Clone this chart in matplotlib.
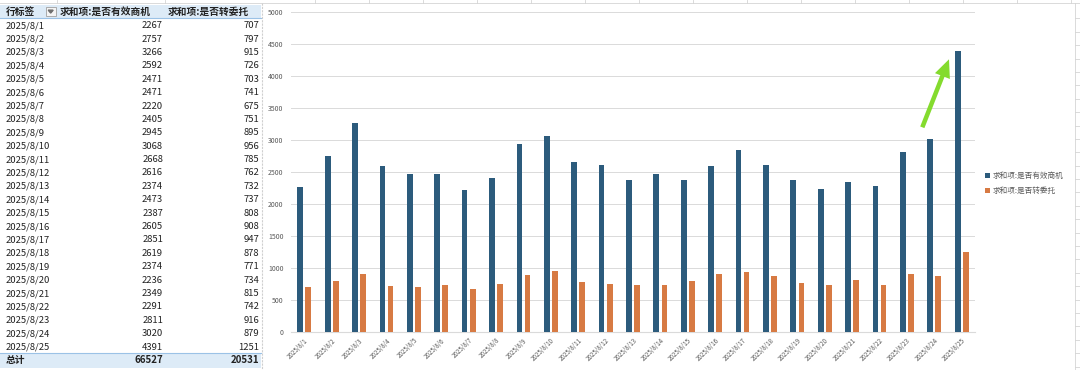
import matplotlib.pyplot as plt
from matplotlib.patches import Rectangle, FancyArrow
import numpy as np

plt.rcParams['font.family'] = ['Noto Sans CJK SC', 'DejaVu Sans']

dates = ["2025/8/1", "2025/8/2", "2025/8/3", "2025/8/4", "2025/8/5",
         "2025/8/6", "2025/8/7", "2025/8/8", "2025/8/9", "2025/8/10",
         "2025/8/11", "2025/8/12", "2025/8/13", "2025/8/14", "2025/8/15",
         "2025/8/16", "2025/8/17", "2025/8/18", "2025/8/19", "2025/8/20",
         "2025/8/21", "2025/8/22", "2025/8/23", "2025/8/24", "2025/8/25"]
opps = [2267, 2757, 3266, 2592, 2471, 2471, 2220, 2405, 2945, 3068,
        2668, 2616, 2374, 2473, 2387, 2605, 2851, 2619, 2374, 2236,
        2349, 2291, 2811, 3020, 4391]
trans = [707, 797, 915, 726, 703, 741, 675, 751, 895, 956,
         785, 762, 732, 737, 808, 908, 947, 878, 771, 734,
         815, 742, 916, 879, 1251]

row_label = "行标签"
col_opps = "求和项:是否有效商机"
col_trans = "求和项:是否转委托"
total_label = "总计"

blue = "#2C5B7C"
orange = "#D77A43"
grid = "#DADADA"
txt = "#595959"

W, H = 1080, 370
fig = plt.figure(figsize=(W / 100, H / 100), dpi=100)

# chart area
ax = fig.add_axes([290.6 / W, 1 - 332.3 / H, (975.4 - 290.6) / W, 320 / H])
x = np.arange(len(dates))
bw = 0.21
ax.bar(x - 0.148, opps, bw, color=blue, label=col_opps, zorder=3)
ax.bar(x + 0.148, trans, bw, color=orange, label=col_trans, zorder=3)
ax.set_xlim(-0.5, len(dates) - 0.5)
ax.set_ylim(0, 5000)
ax.set_yticks(np.arange(0, 5001, 500))
ax.yaxis.grid(True, color=grid, lw=0.7, zorder=0)
for s in ["top", "right", "left"]:
    ax.spines[s].set_visible(False)
ax.spines["bottom"].set_color(grid)
ax.tick_params(axis="y", length=0, labelsize=5, labelcolor=txt, pad=5)
ax.set_xticks(x, dates, rotation=45, ha="right", rotation_mode="anchor")
ax.tick_params(axis="x", length=0, labelsize=4.5, labelcolor=txt, pad=3)

ax.legend(loc="upper left", bbox_to_anchor=(985 / W, 1 - 172 / H),
          bbox_transform=fig.transFigure, frameon=False, fontsize=5.5,
          handlelength=0.6, handleheight=0.6, handletextpad=0.4,
          labelspacing=0.9, borderaxespad=0, borderpad=0, labelcolor=txt)

# overlay in pixel coords: pivot table, sheet lines, arrow
ov = fig.add_axes([0, 0, 1, 1], zorder=5)
ov.set_xlim(0, W)
ov.set_ylim(H, 0)
ov.axis("off")
ov.patch.set_alpha(0)

hdr_bg = "#DDEBF7"
hdr_line = "#9BC2E6"
row_h = 13.39
y0 = 25.7

# sheet gridlines above / right of chart
ov.plot([0, W], [3.3, 3.3], color="#D4D4D4", lw=0.6)
for gx in [57, 165] + list(np.arange(315, 1080, 54)):
    ov.plot([gx, gx], [0, 3.3], color="#D4D4D4", lw=0.6)
ov.plot([262, 262], [3.3, H], color="#CFCFCF", lw=0.8, ls=(0, (2, 1)))
ov.plot([1075, 1075], [3.3, H], color="#D4D4D4", lw=0.6)
for gy in np.arange(18.4, H, row_h):
    ov.plot([1075, W], [gy, gy], color="#D4D4D4", lw=0.6)

# header
ov.add_patch(Rectangle((0, 5), 261, 13.4, color=hdr_bg, lw=0))
ov.plot([0, 261], [18.4, 18.4], color=hdr_line, lw=0.8)
ov.text(6, 11.7, row_label, fontsize=7, weight="bold", va="center", color="#222222")
ov.add_patch(Rectangle((45.7, 7.3), 10, 8.7, facecolor="#F4F4F4",
                       edgecolor="#A0A0A0", lw=0.6))
ov.plot([48.3, 53.1, 50.7, 48.3], [10.2, 10.2, 13.0, 10.2], color="#707070", lw=0.5)
ov.fill([48.3, 53.1, 50.7], [10.2, 10.2, 13.0], color="#707070")
ov.text(60, 11.7, col_opps, fontsize=7, weight="bold", va="center", color="#222222")
ov.text(168, 11.7, col_trans, fontsize=7, weight="bold", va="center", color="#222222")

# rows
for i, d in enumerate(dates):
    yy = y0 + i * row_h
    ov.text(6, yy, d, fontsize=6.8, va="center", color="#222222")
    ov.text(163, yy, str(opps[i]), fontsize=6.8, va="center", ha="right", color="#222222")
    ov.text(259, yy, str(trans[i]), fontsize=6.8, va="center", ha="right", color="#222222")

# total row
ty = y0 + len(dates) * row_h - 0.3
ov.add_patch(Rectangle((0, ty - 7), 261, 14.5, color=hdr_bg, lw=0))
ov.plot([0, 261], [ty - 7, ty - 7], color=hdr_line, lw=0.8)
ov.text(6, ty, total_label, fontsize=7, weight="bold", va="center", color="#222222")
ov.text(163, ty, str(sum(opps)), fontsize=7, weight="bold", va="center", ha="right", color="#222222")
ov.text(259, ty, str(sum(trans)), fontsize=7, weight="bold", va="center", ha="right", color="#222222")

# green arrow
ov.add_patch(FancyArrow(922.3, 127.3, 949 - 922.3, 59.3 - 127.3, width=4.5,
                        head_width=16, head_length=18, length_includes_head=True,
                        color="#84DB2E", lw=0))

fig.savefig("out.png", dpi=100)
